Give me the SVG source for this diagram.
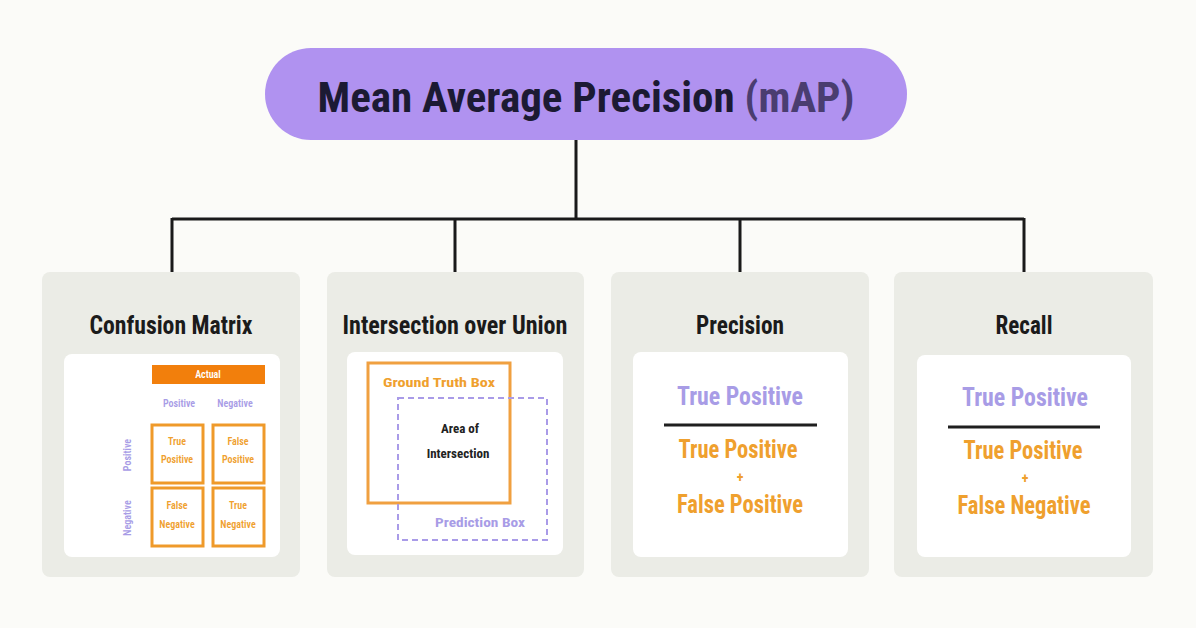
<svg xmlns="http://www.w3.org/2000/svg" width="1196" height="628" viewBox="0 0 1196 628">
<style>
.f{font-family:"Liberation Sans Narrow","Roboto Condensed","Liberation Sans",Arial,sans-serif;font-weight:bold}
.card{fill:#ebece6}
.panel{fill:#ffffff}
.title{font-size:25px;fill:#1b1b1b;text-anchor:middle}
.lav{fill:#a89ce6}
.org{fill:#efa02e}
.conn{stroke:#1a1a1a;stroke-width:3;fill:none}
.cell{fill:none;stroke:#ef9a2a;stroke-width:3}
.sm{font-size:10px;text-anchor:middle;font-weight:600}
.big{font-size:25px;text-anchor:middle}
</style>
<rect width="1196" height="628" fill="#fbfbf8"/>
<g id="connectors">
<path class="conn" d="M576 140V219M172 219H1024M172 218V272M455 218V272M740 218V272M1024 218V272"/>
</g>
<g id="root">
<rect x="265" y="48" width="642" height="92" rx="46" fill="#b092f0"/>
<text class="f" x="586" y="112" font-size="43" text-anchor="middle" fill="#1c1a33">Mean Average Precision <tspan fill="#4a3d70">(mAP)</tspan></text>
</g>
<g id="confusion-matrix">
<rect class="card" x="42" y="272" width="258" height="305" rx="8"/>
<text class="f title" x="171" y="334" textLength="163" lengthAdjust="spacingAndGlyphs">Confusion Matrix</text>
<rect class="panel" x="64" y="354" width="216" height="203" rx="8"/>
<rect x="152" y="365" width="113" height="19" fill="#f27f0c"/>
<text class="f sm" x="208" y="378" fill="#ffffff">Actual</text>
<text class="f sm lav" x="179" y="407">Positive</text>
<text class="f sm lav" x="235" y="407">Negative</text>
<text class="f sm lav" transform="translate(131 455) rotate(-90)">Positive</text>
<text class="f sm lav" transform="translate(131 518) rotate(-90)">Negative</text>
<rect class="cell" x="152" y="425" width="51" height="58"/>
<rect class="cell" x="213" y="425" width="51" height="58"/>
<rect class="cell" x="152" y="488" width="51" height="58"/>
<rect class="cell" x="213" y="488" width="51" height="58"/>
<text class="f sm org" x="177" y="445">True</text>
<text class="f sm org" x="177" y="463">Positive</text>
<text class="f sm org" x="238" y="445">False</text>
<text class="f sm org" x="238" y="463">Positive</text>
<text class="f sm org" x="177" y="509">False</text>
<text class="f sm org" x="177" y="528">Negative</text>
<text class="f sm org" x="238" y="509">True</text>
<text class="f sm org" x="238" y="528">Negative</text>
</g>
<g id="iou">
<rect class="card" x="327" y="272" width="257" height="305" rx="8"/>
<text class="f title" x="455" y="334" textLength="225" lengthAdjust="spacingAndGlyphs">Intersection over Union</text>
<rect class="panel" x="347" y="352" width="216" height="203" rx="8"/>
<rect x="368" y="363" width="142" height="140" fill="none" stroke="#f0a040" stroke-width="3"/>
<rect x="398" y="398" width="149" height="142" fill="none" stroke="#a99be8" stroke-width="2" stroke-dasharray="6 4"/>
<text class="f org" x="383" y="387" font-size="13" textLength="112" lengthAdjust="spacingAndGlyphs">Ground Truth Box</text>
<text class="f" x="460" y="433" font-size="13" text-anchor="middle" fill="#222">Area of</text>
<text class="f" x="458" y="458" font-size="13" text-anchor="middle" fill="#222">Intersection</text>
<text class="f lav" x="435" y="527" font-size="13" textLength="90" lengthAdjust="spacingAndGlyphs">Prediction Box</text>
</g>
<g id="precision">
<rect class="card" x="611" y="272" width="258" height="305" rx="8"/>
<text class="f title" x="740" y="334" textLength="88" lengthAdjust="spacingAndGlyphs">Precision</text>
<rect class="panel" x="633" y="352" width="215" height="205" rx="8"/>
<text class="f big lav" x="740" y="405" textLength="126" lengthAdjust="spacingAndGlyphs">True Positive</text>
<line x1="664" y1="425" x2="817" y2="425" stroke="#1f1f1f" stroke-width="3"/>
<text class="f big org" x="738" y="458" textLength="119" lengthAdjust="spacingAndGlyphs">True Positive</text>
<text class="f org" x="740" y="482" font-size="14" text-anchor="middle">+</text>
<text class="f big org" x="740" y="513" textLength="126" lengthAdjust="spacingAndGlyphs">False Positive</text>
</g>
<g id="recall">
<rect class="card" x="894" y="272" width="259" height="305" rx="8"/>
<text class="f title" x="1024" y="334" textLength="57" lengthAdjust="spacingAndGlyphs">Recall</text>
<rect class="panel" x="917" y="355" width="214" height="202" rx="8"/>
<text class="f big lav" x="1025" y="406" textLength="126" lengthAdjust="spacingAndGlyphs">True Positive</text>
<line x1="948" y1="427" x2="1100" y2="427" stroke="#1f1f1f" stroke-width="3"/>
<text class="f big org" x="1023" y="459" textLength="119" lengthAdjust="spacingAndGlyphs">True Positive</text>
<text class="f org" x="1025" y="483" font-size="14" text-anchor="middle">+</text>
<text class="f big org" x="1024" y="514" textLength="133" lengthAdjust="spacingAndGlyphs">False Negative</text>
</g>
</svg>
